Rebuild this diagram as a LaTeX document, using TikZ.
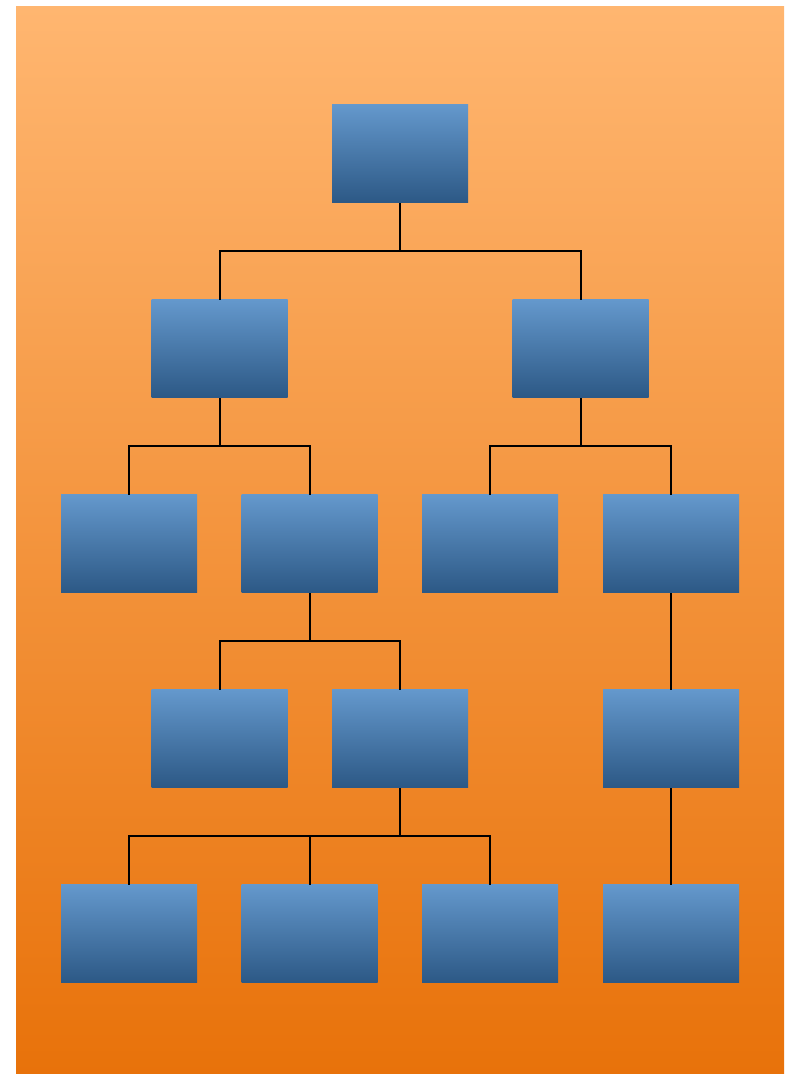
\documentclass[tikz,border=0pt]{standalone}
\usetikzlibrary{positioning}
\definecolor{boxtop}{RGB}{100,152,204}
\definecolor{boxbot}{RGB}{44,88,133}
\definecolor{bgtop}{RGB}{255,182,112}
\definecolor{bgbot}{RGB}{232,114,10}
\tikzset{
  unit/.style={rectangle, inner sep=0pt, minimum width=136pt, minimum height=98pt,
    top color=boxtop, bottom color=boxbot},
  link/.style={line width=2pt},
}
\begin{document}
\begin{tikzpicture}[x=1pt, y=1pt, node distance=195pt]
\useasboundingbox (0,0) rectangle (789,1074);
\shade[top color=bgtop, bottom color=bgbot] (16,0) rectangle (784,1067);

\node[unit] (R) at (400,920) {};
\node[unit, below of=R, xshift=-180.5pt] (A) {};
\node[unit, below of=R, xshift=180.5pt] (B) {};
\node[unit, below of=A, xshift=-90.5pt] (AA) {};
\node[unit, below of=A, xshift=90pt] (AB) {};
\node[unit, below of=B, xshift=-90.5pt] (BA) {};
\node[unit, below of=B, xshift=90.5pt] (BB) {};
\node[unit, below of=AB, xshift=-90pt] (ABA) {};
\node[unit, below of=AB, xshift=90.5pt] (ABB) {};
\node[unit, below of=BB] (BBA) {};
\node[unit, below of=ABB, xshift=-271pt] (ABBA) {};
\node[unit, below of=ABB, xshift=-90.5pt] (ABBB) {};
\node[unit, below of=ABB, xshift=90pt] (ABBC) {};
\node[unit, below of=BBA] (BBAA) {};

\draw[link] (R.south) -- ++(0,-48) -| (A.north);
\draw[link] (R.south) -- ++(0,-48) -| (B.north);
\draw[link] (A.south) -- ++(0,-48) -| (AA.north);
\draw[link] (A.south) -- ++(0,-48) -| (AB.north);
\draw[link] (B.south) -- ++(0,-48) -| (BA.north);
\draw[link] (B.south) -- ++(0,-48) -| (BB.north);
\draw[link] (AB.south) -- ++(0,-48) -| (ABA.north);
\draw[link] (AB.south) -- ++(0,-48) -| (ABB.north);
\draw[link] (BB) -- (BBA);
\draw[link] (ABB.south) -- ++(0,-48) -| (ABBA.north);
\draw[link] (ABB.south) -- ++(0,-48) -| (ABBB.north);
\draw[link] (ABB.south) -- ++(0,-48) -| (ABBC.north);
\draw[link] (BBA) -- (BBAA);
\end{tikzpicture}
\end{document}
